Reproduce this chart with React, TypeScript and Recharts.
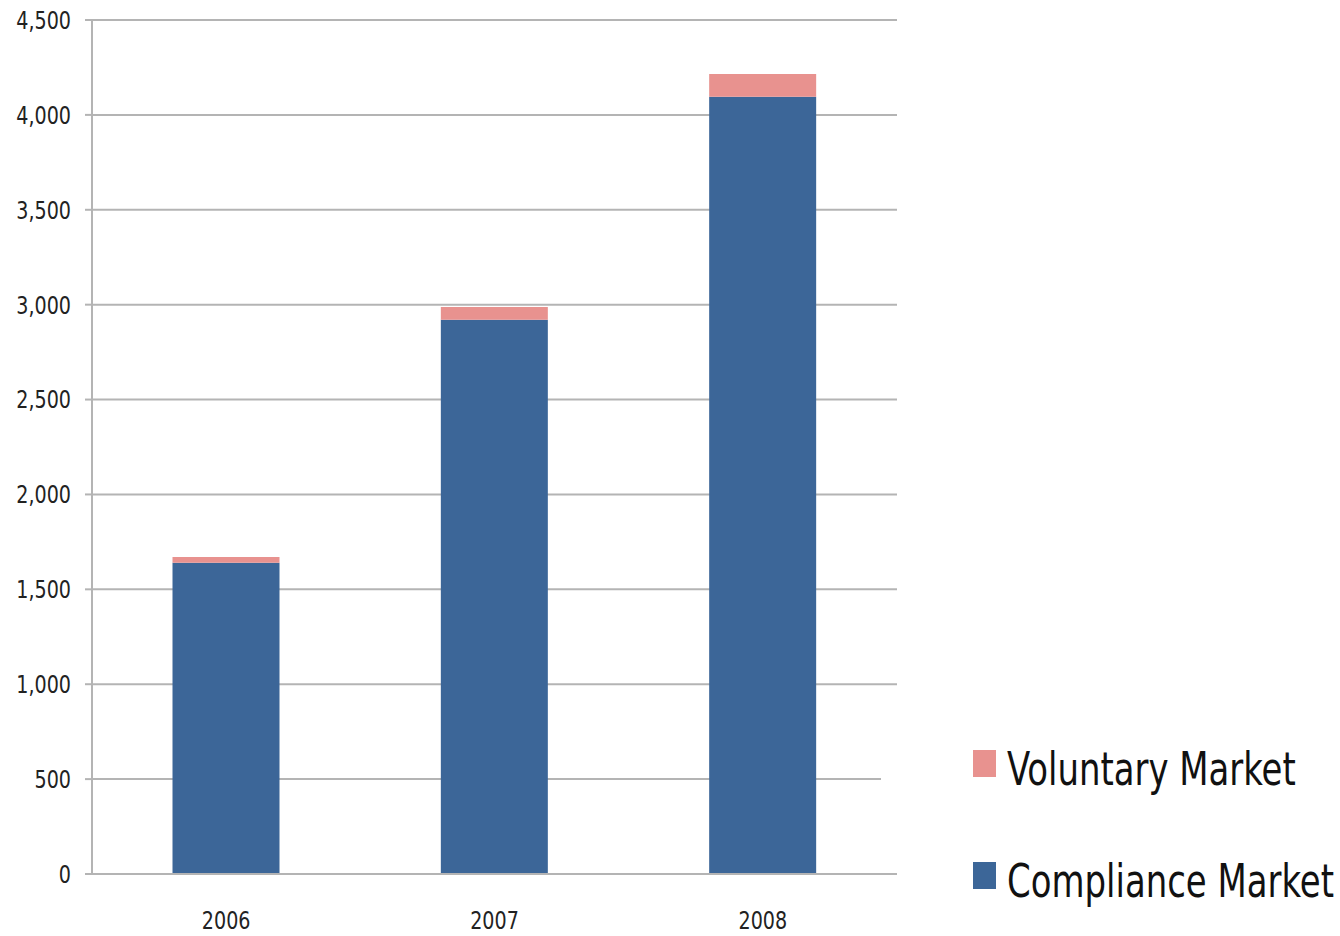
import React from 'react';
import { BarChart, Bar, XAxis, YAxis, CartesianGrid } from 'recharts';

const years = ['2006', '2007', '2008'];
const compliance = [1640, 2920, 4095];
const voluntary = [30, 68, 120];
const yTicks = [0, 500, 1000, 1500, 2000, 2500, 3000, 3500, 4000, 4500];
const boundaryTicks = [0, 1, 2, 3];

const data = years.map((year, i) => ({
  year,
  compliance: compliance[i],
  voluntary: voluntary[i],
}));

const FONT = "'DejaVu Sans Condensed', 'Open Sans', sans-serif";
const BLUE = '#3c6698';
const PINK = '#e8928f';
const GRID = '#b4b4b4';
const SQUEEZE = 0.85;

const legendItems = [
  { label: 'Voluntary Market', color: PINK, square: 20, baseline: 55 },
  { label: 'Compliance Market', color: BLUE, square: 132, baseline: 167 },
];

// narrow, tall labels like the original's Calibri
const NarrowTick = (props: any) => {
  const { x, y, payload, textAnchor, formatter } = props;
  const value = formatter ? formatter(payload.value) : payload.value;
  return (
    <g transform={`translate(${x},${y}) scale(${SQUEEZE},1)`}>
      <text
        x={0}
        y={0}
        dy="0.355em"
        textAnchor={textAnchor}
        fill="#222"
        fontSize={25}
        fontFamily={FONT}
      >
        {value}
      </text>
    </g>
  );
};

const fmt = (v: number) => v.toLocaleString('en-US');

export default function App() {
  return (
    <div
      style={{
        position: 'absolute',
        left: 0,
        top: 0,
        width: 1340,
        height: 936,
        background: '#fff',
        fontFamily: FONT,
      }}
    >
      <BarChart
        width={1340}
        height={936}
        data={data}
        margin={{ top: 20, right: 443, bottom: 0, left: 0 }}
        barCategoryGap="30%"
      >
        <CartesianGrid vertical={false} stroke={GRID} strokeWidth={2} />
        <XAxis
          xAxisId="edge"
          type="number"
          domain={[0, 3]}
          ticks={boundaryTicks}
          height={0}
          axisLine={false}
          tickLine={{ stroke: GRID, strokeWidth: 2 }}
          tickSize={8}
          tick={false}
        />
        <XAxis
          dataKey="year"
          xAxisId="cat"
          height={62}
          axisLine={{ stroke: GRID, strokeWidth: 2 }}
          tickLine={false}
          tick={(p: any) => <NarrowTick {...p} y={920} textAnchor="middle" />}
        />
        <YAxis
          width={92}
          domain={[0, 4500]}
          ticks={yTicks}
          interval={0}
          axisLine={{ stroke: GRID, strokeWidth: 2 }}
          tickLine={{ stroke: GRID, strokeWidth: 2 }}
          tickSize={7}
          tickMargin={14}
          tick={(p: any) => <NarrowTick {...p} formatter={fmt} textAnchor="end" />}
        />
        <Bar
          xAxisId="cat"
          dataKey="compliance"
          stackId="a"
          fill={BLUE}
          isAnimationActive={false}
        />
        <Bar
          xAxisId="cat"
          dataKey="voluntary"
          stackId="a"
          fill={PINK}
          isAnimationActive={false}
        />
      </BarChart>
      <svg
        width={459}
        height={190}
        style={{ position: 'absolute', left: 881, top: 730 }}
      >
        <rect x={0} y={12} width={459} height={66} fill="#fff" />
        {legendItems.map((item) => (
          <g key={item.label}>
            <rect x={92} y={item.square} width={23} height={27} fill={item.color} />
            <text
              transform={`translate(126,${item.baseline}) scale(0.82,1)`}
              fontSize={46}
              fontFamily={FONT}
              fill="#111"
            >
              {item.label}
            </text>
          </g>
        ))}
      </svg>
    </div>
  );
}
